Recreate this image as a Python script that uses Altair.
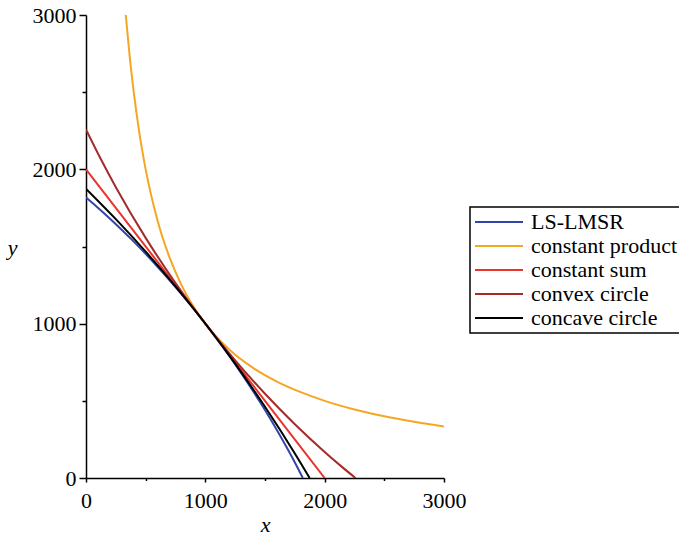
import altair as alt
import pandas as pd

series_names = ["LS-LMSR", "constant product", "constant sum", "convex circle", "concave circle"]
series_colors = ["#3346a8", "#f5a623", "#e8342c", "#a52a2a", "#000000"]

ls_x = [0, 92.4, 187.7, 285.6, 385.7, 487.4, 590.2, 693.5, 796.7, 899.1, 1000,
        1098.8, 1195.0, 1287.9, 1377.1, 1462.1, 1542.7, 1618.6, 1689.6, 1755.8, 1817.1]
ls_y = [1817.1, 1755.8, 1689.6, 1618.6, 1542.7, 1462.1, 1377.1, 1287.9, 1195.0, 1098.8, 1000,
        899.1, 796.7, 693.5, 590.2, 487.4, 385.7, 285.6, 187.7, 92.4, 0]

cp_x = [333.3, 375, 400, 450, 500, 600, 700, 800, 900, 1000, 1200, 1400, 1600, 1800, 2000,
        2250, 2500, 2750, 3000]
cp_y = [3000, 2667, 2500, 2222, 2000, 1667, 1429, 1250, 1111, 1000, 833, 714, 625, 556, 500,
        444, 400, 364, 333]

cs_x = [0, 1000, 2000]
cs_y = [2000, 1000, 0]

cvx_x = [0, 125, 250, 500, 750, 1000, 1250, 1500, 1750, 2000, 2150, 2258.3]
cvx_y = [2258.3, 2065.0, 1884.5, 1555.9, 1263.2, 1000, 761.9, 545.6, 348.7, 169.0, 68.9, 0]

ccv_x = [0, 250, 500, 750, 1000, 1250, 1500, 1750, 1800, 1850, 1874]
ccv_y = [1874.0, 1677.1, 1466.6, 1241.4, 1000, 740.7, 461.4, 159.3, 95.9, 31.4, 0]

rows = []
for name, xs, ys in [
    ("LS-LMSR", ls_x, ls_y),
    ("constant product", cp_x, cp_y),
    ("constant sum", cs_x, cs_y),
    ("convex circle", cvx_x, cvx_y),
    ("concave circle", ccv_x, ccv_y),
]:
    for xv, yv in zip(xs, ys):
        rows.append({"curve": name, "x": xv, "y": yv, "order": series_names.index(name)})
df = pd.DataFrame(rows)

tick_vals = [0, 500, 1000, 1500, 2000, 2500, 3000]
FONT = "Liberation Serif, Times New Roman, DejaVu Serif, serif"

x_axis = alt.Axis(
    values=tick_vals,
    labelExpr="datum.value % 1000 === 0 ? datum.label : ''",
    format="d",
    grid=False,
    labelFlush=False,
    domainColor="black",
    domainWidth=1.5,
    tickColor="black",
    tickWidth=1.5,
    tickSize={"condition": {"test": "datum.value % 1000 === 0", "value": 4}, "value": 2.5},
    labelFont=FONT,
    labelFontSize=22,
    labelColor="black",
    labelPadding=8,
    title="x",
    titleFont=FONT,
    titleFontStyle="italic",
    titleFontWeight="normal",
    titleFontSize=22,
    titleColor="black",
    titlePadding=3,
)
y_axis = alt.Axis(
    values=tick_vals,
    labelExpr="datum.value % 1000 === 0 ? datum.label : ''",
    format="d",
    grid=False,
    labelFlush=False,
    domainColor="black",
    domainWidth=1.5,
    tickColor="black",
    tickWidth=1.5,
    tickSize={"condition": {"test": "datum.value % 1000 === 0", "value": 7}, "value": 4},
    labelFont=FONT,
    labelFontSize=22,
    labelColor="black",
    labelPadding=3,
    title="y",
    titleFont=FONT,
    titleFontStyle="italic",
    titleFontWeight="normal",
    titleFontSize=22,
    titleColor="black",
    titleAngle=0,
    titleAlign="center",
    titleBaseline="middle",
    titleX=-74,
    titleY=232,
)

chart = (
    alt.Chart(df)
    .mark_line(strokeWidth=2, interpolate="monotone", clip=True)
    .encode(
        x=alt.X("x:Q", scale=alt.Scale(domain=[0, 3000], nice=False), axis=x_axis),
        y=alt.Y("y:Q", scale=alt.Scale(domain=[0, 3000], nice=False), axis=y_axis),
        color=alt.Color(
            "curve:N",
            scale=alt.Scale(domain=series_names, range=series_colors),
            legend=alt.Legend(
                title=None,
                orient="none",
                legendX=384,
                legendY=192,
                symbolType="stroke",
                symbolSize=2304,
                symbolStrokeWidth=2,
                clipHeight=22,
                labelFont=FONT,
                labelFontSize=22,
                labelColor="black",
                labelOffset=7,
                rowPadding=2,
                padding=4,
                strokeColor="black",
                fillColor="white",
            ),
        ),
        order=alt.Order("order:Q"),
        detail="curve:N",
    )
    .properties(
        width=358,
        height=463,
        autosize=alt.AutoSizeParams(type="none"),
        padding={"left": 86, "top": 15, "right": 235, "bottom": 60},
    )
    .configure_view(stroke=None)
    .configure_legend(strokeWidth=1.5)
)

chart.save("out.html", embed_options={"renderer": "svg", "actions": False})
